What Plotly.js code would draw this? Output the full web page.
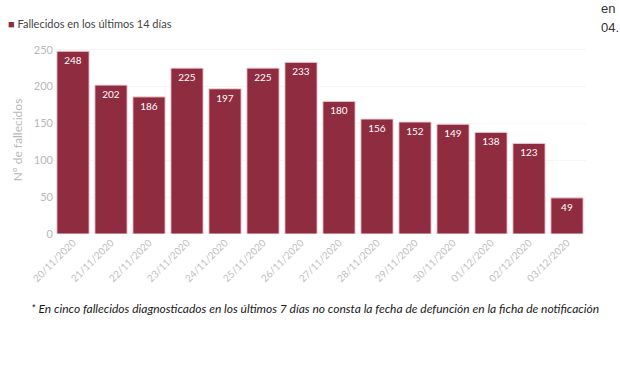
<!DOCTYPE html>
<html><head><meta charset="utf-8">
<script src="https://cdn.plot.ly/plotly-3.0.1.min.js"></script>
<style>html,body{margin:0;padding:0;background:#fff;}#chart{width:620px;height:368px;}</style>
</head><body><div id="chart"></div>
<script>
const categories = ["20/11/2020","21/11/2020","22/11/2020","23/11/2020","24/11/2020","25/11/2020","26/11/2020","27/11/2020","28/11/2020","29/11/2020","30/11/2020","01/12/2020","02/12/2020","03/12/2020"];
const fallecidos = [248,202,186,225,197,225,233,180,156,152,149,138,123,49];
const seriesName = "Fallecidos en los últimos 14 días";
const yTicks = [0,50,100,150,200,250];
const barColor = "#902c40";

const trace = {
  type: "bar", x: categories, y: fallecidos, name: seriesName,
  marker: {color: barColor, line: {color: "#f3d9de", width: 1}},
  text: fallecidos.map(String), textposition: "inside", insidetextanchor: "end",
  textfont: {color: "#ffffff", size: 10, family: "Lato, sans-serif"},
  cliponaxis: false
};
const layout = {
  width: 620, height: 368,
  margin: {l: 54, r: 34, t: 46, b: 134},
  paper_bgcolor: "#fff", plot_bgcolor: "#fff",
  bargap: 0.15,
  font: {family: "Lato, sans-serif"},
  showlegend: false,
  xaxis: {type: "category", tickangle: -45, tickfont: {size: 10, color: "#c0c0c0"},
    showline: false, ticks: "", showgrid: false},
  yaxis: {range: [0, 255], tickvals: yTicks, tickfont: {size: 11, color: "#b8b8b8"},
    showgrid: true, gridcolor: "#f6f6f6", zeroline: false, ticks: "", ticklen: 0,
    title: {text: "Nº de fallecidos", font: {size: 12, color: "#b8b8b8"}, standoff: 8}},
  annotations: [
    {text: "<span style='color:" + barColor + "'>■</span> " + seriesName,
     xref: "paper", yref: "paper", x: -0.09, y: 1.12, xanchor: "left", yanchor: "middle", showarrow: false,
     font: {size: 11, color: "#444"}},
    {text: "<i>* En cinco fallecidos diagnosticados en los últimos 7 días no consta la fecha de defunción en la ficha de notificación</i>",
     xref: "paper", yref: "paper", x: 0.49, y: -0.395, xanchor: "center", yanchor: "middle", showarrow: false,
     font: {size: 12, color: "#1a1a1a"}},
    {text: "en", xref: "paper", yref: "paper", x: 1.024, y: 1.2, xanchor: "left", yanchor: "middle", showarrow: false,
     font: {size: 13, color: "#333", family: "Liberation Sans, Arial, sans-serif"}},
    {text: "04.", xref: "paper", yref: "paper", x: 1.024, y: 1.1, xanchor: "left", yanchor: "middle", showarrow: false,
     font: {size: 13, color: "#333", family: "Liberation Sans, Arial, sans-serif"}}
  ]
};
Plotly.newPlot("chart", [trace], layout, {displayModeBar: false, staticPlot: true});
</script></body></html>
